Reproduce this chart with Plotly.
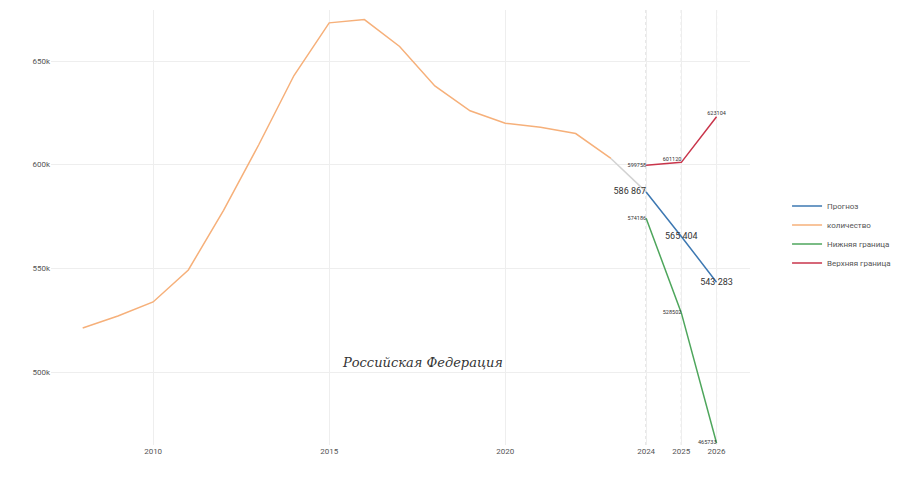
import plotly.graph_objects as go

years = list(range(2008, 2024))
count = [521200, 527000, 533800, 549200, 578000, 609600, 643000, 668400, 670000,
         657000, 638000, 626000, 620000, 618000, 615000, 603000]

f_years = [2024, 2025, 2026]
forecast = [586867, 565404, 543283]
lower = [574186, 528502, 465733]
upper = [599758, 601120, 623104]

tick_years = [2010, 2015, 2020, 2024, 2025, 2026]
y_ticks = [500000, 550000, 600000, 650000]
y_tick_text = ["500k", "550k", "600k", "650k"]

BLUE = "#3d78b2"
ORANGE = "#f6b07a"
GREEN = "#4ea65c"
RED = "#c9354b"

def spaced(v):
    return f"{v:,}".replace(",", " ")

fig = go.Figure()

# connector from last actual value to first forecast value
fig.add_trace(go.Scatter(x=[years[-1], f_years[0]], y=[count[-1], forecast[0]],
                         mode="lines", line=dict(color="#d2d2d2", width=1.5),
                         showlegend=False, hoverinfo="skip"))

fig.add_trace(go.Scatter(x=f_years, y=forecast, mode="lines+text", name="Прогноз",
                         line=dict(color=BLUE, width=1.5),
                         text=[spaced(v) for v in forecast],
                         textposition=["middle left", "middle center", "middle center"],
                         textfont=dict(size=9, color="#333", family="Roboto")))
fig.add_trace(go.Scatter(x=years, y=count, mode="lines", name="количество",
                         line=dict(color=ORANGE, width=1.5)))
fig.add_trace(go.Scatter(x=f_years, y=lower, mode="lines+text", name="Нижняя граница",
                         line=dict(color=GREEN, width=1.5),
                         text=[str(v) for v in lower],
                         textposition=["middle left", "middle left", "middle left"],
                         textfont=dict(size=5.5, color="#333", family="Roboto")))
fig.add_trace(go.Scatter(x=f_years, y=upper, mode="lines+text", name="Верхняя граница",
                         line=dict(color=RED, width=1.5),
                         text=[str(v) for v in upper],
                         textposition=["middle left", "top left", "top center"],
                         textfont=dict(size=5.5, color="#333", family="Roboto")))

for yv in f_years:
    fig.add_vline(x=yv, line=dict(color="#c4c4c4", width=1, dash="dot"), layer="below")

fig.add_annotation(x=2017.65, y=504800, text="<i>Российская Федерация</i>", showarrow=False,
                   font=dict(family="DejaVu Serif", size=13, color="#333"),
                   xanchor="center", yanchor="middle")

fig.update_layout(
    width=923, height=490,
    paper_bgcolor="white", plot_bgcolor="white",
    margin=dict(l=43, r=181, t=2, b=53),
    font=dict(family="Roboto", size=8, color="#555"),
    xaxis=dict(range=[2007.1, 2026.95], tickvals=tick_years, ticktext=[str(t) for t in tick_years],
               showgrid=True, gridcolor="#eeeeee", zeroline=False, showline=False,
               tickfont=dict(size=8, color="#555")),
    yaxis=dict(range=[464800, 674600], tickvals=y_ticks, ticktext=y_tick_text,
               showgrid=True, gridcolor="#eeeeee", zeroline=False, showline=False,
               tickfont=dict(size=8, color="#555")),
    legend=dict(x=1.053, y=0.583, xanchor="left", yanchor="top",
                font=dict(size=8, color="#555"), bgcolor="rgba(0,0,0,0)",
                tracegroupgap=2),
    showlegend=True,
)

fig.write_html("out.html")
